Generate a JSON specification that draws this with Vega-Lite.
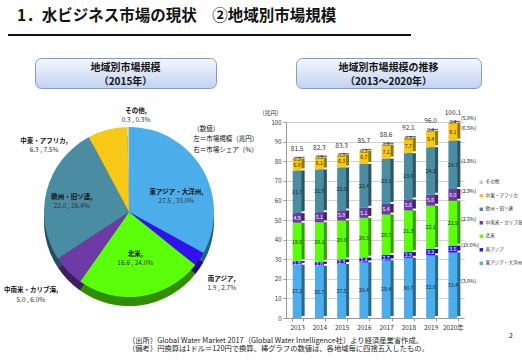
{
  "$schema": "https://vega.github.io/schema/vega-lite/v6.json",
  "background": "white",
  "padding": {"left": 3, "top": 8, "right": 2, "bottom": 2},
  "config": {
    "font": "Noto Sans CJK JP",
    "view": {"stroke": null},
    "title": {"font": "Noto Sans CJK JP", "color": "#111"},
    "axis": {"labelFont": "Noto Sans CJK JP", "titleFont": "Noto Sans CJK JP"},
    "legend": {"labelFont": "Noto Sans CJK JP"},
    "text": {"font": "Noto Sans CJK JP"}
  },
  "datasets": {
    "pie": [
      {"region": "東アジア・大洋州", "size": 27.5, "share": 33.0},
      {"region": "南アジア", "size": 1.9, "share": 2.7},
      {"region": "北米", "size": 16.6, "share": 24.0},
      {"region": "中南米・カリブ海", "size": 5.0, "share": 6.0},
      {"region": "欧州・旧ソ連", "size": 22.0, "share": 26.4},
      {"region": "中東・アフリカ", "size": 6.3, "share": 7.5},
      {"region": "その他", "size": 0.3, "share": 0.3}
    ],
    "totals": [
      {"year": "2013", "total": 81.5}, {"year": "2014", "total": 82.3},
      {"year": "2015", "total": 83.3}, {"year": "2016", "total": 85.7},
      {"year": "2017", "total": 88.6}, {"year": "2018", "total": 92.1},
      {"year": "2019", "total": 96.0}, {"year": "2020", "total": 100.1}
    ],
    "bars": [
      {"year": "2013", "region": "東アジア・大洋州", "value": 27.2},
      {"year": "2013", "region": "南アジア", "value": 1.8},
      {"year": "2013", "region": "北米", "value": 19.6},
      {"year": "2013", "region": "中南米・カリブ海", "value": 4.9},
      {"year": "2013", "region": "欧州・旧ソ連", "value": 21.7},
      {"year": "2013", "region": "中東・アフリカ", "value": 6.0},
      {"year": "2013", "region": "その他", "value": 0.3},
      {"year": "2014", "region": "東アジア・大洋州", "value": 26.7},
      {"year": "2014", "region": "南アジア", "value": 2.0},
      {"year": "2014", "region": "北米", "value": 20.1},
      {"year": "2014", "region": "中南米・カリブ海", "value": 5.1},
      {"year": "2014", "region": "欧州・旧ソ連", "value": 21.9},
      {"year": "2014", "region": "中東・アフリカ", "value": 6.1},
      {"year": "2014", "region": "その他", "value": 0.3},
      {"year": "2015", "region": "東アジア・大洋州", "value": 27.5},
      {"year": "2015", "region": "南アジア", "value": 2.3},
      {"year": "2015", "region": "北米", "value": 20.0},
      {"year": "2015", "region": "中南米・カリブ海", "value": 5.0},
      {"year": "2015", "region": "欧州・旧ソ連", "value": 22.0},
      {"year": "2015", "region": "中東・アフリカ", "value": 6.3},
      {"year": "2015", "region": "その他", "value": 0.3},
      {"year": "2016", "region": "東アジア・大洋州", "value": 28.4},
      {"year": "2016", "region": "南アジア", "value": 2.4},
      {"year": "2016", "region": "北米", "value": 20.3},
      {"year": "2016", "region": "中南米・カリブ海", "value": 5.1},
      {"year": "2016", "region": "欧州・旧ソ連", "value": 22.4},
      {"year": "2016", "region": "中東・アフリカ", "value": 6.7},
      {"year": "2016", "region": "その他", "value": 0.3},
      {"year": "2017", "region": "東アジア・大洋州", "value": 29.4},
      {"year": "2017", "region": "南アジア", "value": 2.7},
      {"year": "2017", "region": "北米", "value": 20.7},
      {"year": "2017", "region": "中南米・カリブ海", "value": 5.4},
      {"year": "2017", "region": "欧州・旧ソ連", "value": 23.1},
      {"year": "2017", "region": "中東・アフリカ", "value": 7.1},
      {"year": "2017", "region": "その他", "value": 0.3},
      {"year": "2018", "region": "東アジア・大洋州", "value": 30.7},
      {"year": "2018", "region": "南アジア", "value": 2.9},
      {"year": "2018", "region": "北米", "value": 21.3},
      {"year": "2018", "region": "中南米・カリブ海", "value": 5.6},
      {"year": "2018", "region": "欧州・旧ソ連", "value": 23.6},
      {"year": "2018", "region": "中東・アフリカ", "value": 7.7},
      {"year": "2018", "region": "その他", "value": 0.3},
      {"year": "2019", "region": "東アジア・大洋州", "value": 32.0},
      {"year": "2019", "region": "南アジア", "value": 3.2},
      {"year": "2019", "region": "北米", "value": 22.1},
      {"year": "2019", "region": "中南米・カリブ海", "value": 5.6},
      {"year": "2019", "region": "欧州・旧ソ連", "value": 24.2},
      {"year": "2019", "region": "中東・アフリカ", "value": 8.4},
      {"year": "2019", "region": "その他", "value": 0.4},
      {"year": "2020", "region": "東アジア・大洋州", "value": 33.4, "cagr": "(3.0%)"},
      {"year": "2020", "region": "南アジア", "value": 3.5, "cagr": "(10.0%)"},
      {"year": "2020", "region": "北米", "value": 22.9, "cagr": "(2.5%)"},
      {"year": "2020", "region": "中南米・カリブ海", "value": 6.0, "cagr": "(2.9%)"},
      {"year": "2020", "region": "欧州・旧ソ連", "value": 24.7, "cagr": "(1.9%)"},
      {"year": "2020", "region": "中東・アフリカ", "value": 9.1, "cagr": "(6.5%)"},
      {"year": "2020", "region": "その他", "value": 0.4, "cagr": "(5.0%)"}
    ]
  },
  "bounds": "flush",
  "spacing": 22,
  "title": {"text": "2", "orient": "bottom", "anchor": "end", "frame": "group", "fontSize": 7, "fontWeight": "normal", "dy": -24, "dx": 505},
  "vconcat": [
    {
      "title": {"text": "1．水ビジネス市場の現状　②地域別市場規模", "anchor": "start", "frame": "group", "fontSize": 15.5, "fontWeight": "bold", "color": "#111", "offset": 5, "dx": 9},
      "width": 403,
      "height": 2,
      "view": {"fill": "#111", "stroke": null},
      "data": {"values": [{}]},
      "mark": {"type": "text"},
      "encoding": {"text": {"value": ""}}
    },
    {
      "bounds": "flush",
      "spacing": 64,
      "vconcat": [
        {
          "bounds": "flush",
          "spacing": 0,
          "hconcat": [
            {"width": 27, "height": 30, "data": {"values": [{}]}, "mark": {"type": "text"}, "encoding": {"text": {"value": ""}}},
            {
              "width": 181, "height": 30,
              "view": {"fill": {"gradient": "linear", "x1": 0, "y1": 0, "x2": 0, "y2": 1, "stops": [{"offset": 0, "color": "#F4F7FD"}, {"offset": 1, "color": "#C2D2F3"}]}, "stroke": "#7F9BCB", "strokeWidth": 1, "cornerRadius": 6},
              "title": {"text": ["地域別市場規模", "（2015年）"], "anchor": "middle", "frame": "group", "offset": -28.5, "fontSize": 10, "fontWeight": "bold", "lineHeight": 13.5, "color": "#111"},
              "data": {"values": [{}]}, "mark": {"type": "text"}, "encoding": {"text": {"value": ""}}
            },
            {"width": 80, "height": 30, "data": {"values": [{}]}, "mark": {"type": "text"}, "encoding": {"text": {"value": ""}}},
            {
              "width": 185, "height": 30,
              "view": {"fill": {"gradient": "linear", "x1": 0, "y1": 0, "x2": 0, "y2": 1, "stops": [{"offset": 0, "color": "#F4F7FD"}, {"offset": 1, "color": "#C2D2F3"}]}, "stroke": "#7F9BCB", "strokeWidth": 1, "cornerRadius": 6},
              "title": {"text": ["地域別市場規模の推移", "（2013～2020年）"], "anchor": "middle", "frame": "group", "offset": -28.5, "fontSize": 10, "fontWeight": "bold", "lineHeight": 13.5, "color": "#111"},
              "data": {"values": [{}]}, "mark": {"type": "text"}, "encoding": {"text": {"value": ""}}
            }
          ]
        },
        {
          "bounds": "flush",
          "spacing": 36,
          "resolve": {"scale": {"color": "independent"}},
          "title": {"text": ["（出所）Global Water Market 2017（Global Water Intelligence社）より経済産業省作成。", "（備考）円換算は1ドル＝120円で換算。棒グラフの数値は、各地域毎に四捨五入したもの。"], "orient": "bottom", "anchor": "start", "frame": "group", "dx": 120, "offset": 6, "fontSize": 7.3, "fontWeight": "normal", "lineHeight": 8.5, "color": "#222"},
          "hconcat": [
            {
              "width": 242,
              "height": 186,
              "layer": [
                {
                  "data": {"name": "pie"},
                  "transform": [
                    {"calculate": "indexof(['東アジア・大洋州','南アジア','北米','中南米・カリブ海','欧州・旧ソ連','中東・アフリカ','その他'], datum.region)", "as": "o"},
                    {"stack": "share", "groupby": [], "sort": [{"field": "o", "order": "ascending"}], "as": ["t0", "t1"]},
                    {"calculate": "(datum.t0 + datum.t1) / 2", "as": "tm"},
                    {"calculate": "datum.region + ','", "as": "nm"},
                    {"calculate": "format(datum.size, '.1f') + ' , ' + format(datum.share, '.1f') + '%'", "as": "lab"}
                  ],
                  "layer": [
                    {
                      "mark": {"type": "arc", "outerRadius": 85, "yOffset": 6},
                      "encoding": {
                        "theta": {"field": "t0", "type": "quantitative", "scale": {"domain": [0, 99.9]}},
                        "theta2": {"field": "t1"},
                        "color": {"field": "region", "type": "nominal", "scale": {"domain": ["その他", "中東・アフリカ", "欧州・旧ソ連", "中南米・カリブ海", "北米", "南アジア", "東アジア・大洋州"], "range": ["#C9C9C9", "#F7C815", "#4A8CA2", "#6E3AA6", "#5CFF0A", "#3311EE", "#4BAEEA"]}, "legend": null}
                      }
                    },
                    {
                      "mark": {"type": "arc", "outerRadius": 85, "yOffset": 6, "color": "black", "opacity": 0.45},
                      "encoding": {
                        "theta": {"field": "t0", "type": "quantitative"},
                        "theta2": {"field": "t1"}
                      }
                    },
                    {
                      "mark": {"type": "arc", "outerRadius": 85, "yOffset": -3},
                      "encoding": {
                        "theta": {"field": "t0", "type": "quantitative"},
                        "theta2": {"field": "t1"},
                        "color": {"field": "region", "type": "nominal", "legend": null}
                      }
                    },
                    {
                      "transform": [{"filter": "datum.region == '東アジア・大洋州'"}],
                      "layer": [
                        {"mark": {"type": "text", "radius": 55, "dy": 5, "fontSize": 6.5, "fontWeight": "bold", "color": "#111"}, "encoding": {"theta": {"field": "tm", "type": "quantitative"}, "text": {"field": "nm", "type": "nominal"}}},
                        {"mark": {"type": "text", "radius": 55, "dy": 14, "fontSize": 6.5, "color": "#333"}, "encoding": {"theta": {"field": "tm", "type": "quantitative"}, "text": {"field": "lab", "type": "nominal"}}}
                      ]
                    },
                    {
                      "transform": [{"filter": "datum.region == '北米'"}],
                      "layer": [
                        {"mark": {"type": "text", "radius": 45, "dy": -6, "fontSize": 6.5, "fontWeight": "bold", "color": "#111"}, "encoding": {"theta": {"field": "tm", "type": "quantitative"}, "text": {"field": "nm", "type": "nominal"}}},
                        {"mark": {"type": "text", "radius": 45, "dy": 3, "fontSize": 6.5, "color": "#333"}, "encoding": {"theta": {"field": "tm", "type": "quantitative"}, "text": {"field": "lab", "type": "nominal"}}}
                      ]
                    },
                    {
                      "transform": [{"filter": "datum.region == '欧州・旧ソ連'"}],
                      "layer": [
                        {"mark": {"type": "text", "radius": 55, "dx": -4, "dy": -4, "fontSize": 6.5, "fontWeight": "bold", "color": "#111"}, "encoding": {"theta": {"field": "tm", "type": "quantitative"}, "text": {"field": "nm", "type": "nominal"}}},
                        {"mark": {"type": "text", "radius": 55, "dx": -4, "dy": 5, "fontSize": 6.5, "color": "#333"}, "encoding": {"theta": {"field": "tm", "type": "quantitative"}, "text": {"field": "lab", "type": "nominal"}}}
                      ]
                    },
                    {
                      "transform": [{"filter": "datum.region == '南アジア'"}],
                      "layer": [
                        {"mark": {"type": "text", "radius": 108, "dx": 3, "dy": 4, "fontSize": 6.5, "fontWeight": "bold", "color": "#111"}, "encoding": {"theta": {"field": "tm", "type": "quantitative"}, "text": {"field": "nm", "type": "nominal"}}},
                        {"mark": {"type": "text", "radius": 108, "dx": 3, "dy": 13, "fontSize": 6.5, "color": "#333"}, "encoding": {"theta": {"field": "tm", "type": "quantitative"}, "text": {"field": "lab", "type": "nominal"}}}
                      ]
                    },
                    {
                      "transform": [{"filter": "datum.region == '中南米・カリブ海'"}],
                      "layer": [
                        {"mark": {"type": "text", "radius": 110, "dx": -19, "dy": -1, "fontSize": 6.5, "fontWeight": "bold", "color": "#111"}, "encoding": {"theta": {"field": "tm", "type": "quantitative"}, "text": {"field": "nm", "type": "nominal"}}},
                        {"mark": {"type": "text", "radius": 110, "dx": -19, "dy": 8.5, "fontSize": 6.5, "color": "#333"}, "encoding": {"theta": {"field": "tm", "type": "quantitative"}, "text": {"field": "lab", "type": "nominal"}}}
                      ]
                    },
                    {
                      "transform": [{"filter": "datum.region == '中東・アフリカ'"}],
                      "layer": [
                        {"mark": {"type": "text", "radius": 95, "dx": -61, "dy": 18, "fontSize": 6.5, "fontWeight": "bold", "color": "#111"}, "encoding": {"theta": {"field": "tm", "type": "quantitative"}, "text": {"field": "nm", "type": "nominal"}}},
                        {"mark": {"type": "text", "radius": 95, "dx": -61, "dy": 27, "fontSize": 6.5, "color": "#333"}, "encoding": {"theta": {"field": "tm", "type": "quantitative"}, "text": {"field": "lab", "type": "nominal"}}}
                      ]
                    },
                    {
                      "transform": [{"filter": "datum.region == 'その他'"}],
                      "layer": [
                        {"mark": {"type": "text", "radius": 100, "dx": 8, "dy": -4, "fontSize": 6.5, "fontWeight": "bold", "color": "#111"}, "encoding": {"theta": {"field": "tm", "type": "quantitative"}, "text": {"field": "nm", "type": "nominal"}}},
                        {"mark": {"type": "text", "radius": 100, "dx": 8, "dy": 5, "fontSize": 6.5, "color": "#333"}, "encoding": {"theta": {"field": "tm", "type": "quantitative"}, "text": {"field": "lab", "type": "nominal"}}}
                      ]
                    }
                  ]
                },
                {
                  "data": {"values": [{}]},
                  "mark": {"type": "text", "theta": 0.6235, "radius": 110, "align": "left", "baseline": "top", "fontSize": 6.5, "lineHeight": 10.5, "color": "#111"},
                  "encoding": {"text": {"value": ["（数値）", "左＝市場規模（兆円）", "右＝市場シェア（%）"]}}
                }
              ]
            },
            {
              "width": 178,
              "height": 196,
              "layer": [
                {
                  "data": {"name": "bars"},
                  "transform": [
                    {"calculate": "indexof(['東アジア・大洋州','南アジア','北米','中南米・カリブ海','欧州・旧ソ連','中東・アフリカ','その他'], datum.region)", "as": "o"},
                    {"stack": "value", "groupby": ["year"], "sort": [{"field": "o", "order": "ascending"}], "as": ["v0", "v1"]},
                    {"calculate": "(datum.v0 + datum.v1) / 2", "as": "mid"}
                  ],
                  "layer": [
                    {
                      "mark": {"type": "bar", "width": {"band": 0.8}, "xOffset": 3, "yOffset": -2},
                      "encoding": {
                        "x": {"field": "year", "type": "ordinal", "scale": {"paddingInner": 0.5, "paddingOuter": 0.25}, "axis": {"title": null, "labelAngle": 0, "labelFontSize": 6.5, "labelColor": "#333", "labelExpr": "datum.value == '2020' ? '2020年' : datum.value", "tickColor": "#999", "domainColor": "#999", "tickBand": "extent", "tickSize": 3, "labelPadding": 3}},
                        "y": {"field": "v0", "type": "quantitative", "title": "(兆円)", "scale": {"domain": [0, 100], "nice": false}, "axis": {"values": [0, 10, 20, 30, 40, 50, 60, 70, 80, 90, 100], "titleAngle": 0, "titleX": -24, "titleY": -10, "titleAlign": "left", "titleBaseline": "middle", "titleFontSize": 6, "titleFontWeight": "normal", "titleColor": "#333", "labelFontSize": 6, "labelColor": "#333", "grid": true, "gridColor": "#c8c8c8", "gridWidth": 0.8, "domainColor": "#999", "tickColor": "#999", "tickSize": 3}},
                        "y2": {"field": "v1"},
                        "color": {"field": "region", "type": "nominal", "scale": {"domain": ["その他", "中東・アフリカ", "欧州・旧ソ連", "中南米・カリブ海", "北米", "南アジア", "東アジア・大洋州"], "range": ["#C9C9C9", "#F7C815", "#4A8CA2", "#6E3AA6", "#5CFF0A", "#3311EE", "#4BAEEA"]}, "legend": {"orient": "none", "legendX": 193, "legendY": 58, "title": null, "symbolType": "square", "symbolSize": 12, "symbolStrokeWidth": 0, "labelFontSize": 4.6, "labelColor": "#222", "rowPadding": 7.5, "labelOffset": 2, "padding": 0, "labelLimit": 60}}
                      }
                    },
                    {
                      "mark": {"type": "bar", "width": {"band": 0.8}, "xOffset": 3, "yOffset": -2, "color": "black", "opacity": 0.4},
                      "encoding": {
                        "x": {"field": "year", "type": "ordinal"},
                        "y": {"field": "v0", "type": "quantitative", "title": "(兆円)", "axis": {"values": [0, 10, 20, 30, 40, 50, 60, 70, 80, 90, 100], "titleAngle": 0, "titleX": -24, "titleY": -10, "titleAlign": "left", "titleBaseline": "middle", "titleFontSize": 6, "titleFontWeight": "normal", "titleColor": "#333", "labelFontSize": 6, "labelColor": "#333", "grid": true, "gridColor": "#c8c8c8", "gridWidth": 0.8, "domainColor": "#999", "tickColor": "#999", "tickSize": 3}},
                        "y2": {"field": "v1"}
                      }
                    },
                    {
                      "mark": {"type": "bar", "width": {"band": 0.8}},
                      "encoding": {
                        "x": {"field": "year", "type": "ordinal"},
                        "y": {"field": "v0", "type": "quantitative", "title": "(兆円)", "axis": {"values": [0, 10, 20, 30, 40, 50, 60, 70, 80, 90, 100], "titleAngle": 0, "titleX": -24, "titleY": -10, "titleAlign": "left", "titleBaseline": "middle", "titleFontSize": 6, "titleFontWeight": "normal", "titleColor": "#333", "labelFontSize": 6, "labelColor": "#333", "grid": true, "gridColor": "#c8c8c8", "gridWidth": 0.8, "domainColor": "#999", "tickColor": "#999", "tickSize": 3}},
                        "y2": {"field": "v1"},
                        "color": {"field": "region", "type": "nominal", "legend": {"orient": "none", "legendX": 193, "legendY": 58, "title": null, "symbolType": "square", "symbolSize": 12, "symbolStrokeWidth": 0, "labelFontSize": 4.6, "labelColor": "#222", "rowPadding": 7.5, "labelOffset": 2, "padding": 0, "labelLimit": 60}}
                      }
                    },
                    {
                      "mark": {"type": "text", "fontSize": 5.2},
                      "encoding": {
                        "x": {"field": "year", "type": "ordinal"},
                        "y": {"field": "mid", "type": "quantitative", "title": "(兆円)", "axis": {"values": [0, 10, 20, 30, 40, 50, 60, 70, 80, 90, 100], "titleAngle": 0, "titleX": -24, "titleY": -10, "titleAlign": "left", "titleBaseline": "middle", "titleFontSize": 6, "titleFontWeight": "normal", "titleColor": "#333", "labelFontSize": 6, "labelColor": "#333", "grid": true, "gridColor": "#c8c8c8", "gridWidth": 0.8, "domainColor": "#999", "tickColor": "#999", "tickSize": 3}},
                        "text": {"field": "value", "type": "quantitative", "format": ".1f"},
                        "color": {"condition": {"test": "datum.region == '南アジア' || datum.region == '中南米・カリブ海'", "value": "white"}, "value": "#222"}
                      }
                    },
                    {
                      "transform": [{"filter": "isValid(datum.cagr)"}],
                      "mark": {"type": "text", "align": "left", "dx": 8, "dy": -4, "fontSize": 5.2, "color": "#222"},
                      "encoding": {
                        "x": {"field": "year", "type": "ordinal"},
                        "y": {"field": "mid", "type": "quantitative", "title": "(兆円)", "axis": {"values": [0, 10, 20, 30, 40, 50, 60, 70, 80, 90, 100], "titleAngle": 0, "titleX": -24, "titleY": -10, "titleAlign": "left", "titleBaseline": "middle", "titleFontSize": 6, "titleFontWeight": "normal", "titleColor": "#333", "labelFontSize": 6, "labelColor": "#333", "grid": true, "gridColor": "#c8c8c8", "gridWidth": 0.8, "domainColor": "#999", "tickColor": "#999", "tickSize": 3}},
                        "text": {"field": "cagr", "type": "nominal"}
                      }
                    }
                  ]
                },
                {
                  "data": {"name": "totals"},
                  "mark": {"type": "text", "dy": -9, "fontSize": 6.5, "color": "#333"},
                  "encoding": {
                    "x": {"field": "year", "type": "ordinal"},
                    "y": {"field": "total", "type": "quantitative", "title": "(兆円)", "axis": {"values": [0, 10, 20, 30, 40, 50, 60, 70, 80, 90, 100], "titleAngle": 0, "titleX": -24, "titleY": -10, "titleAlign": "left", "titleBaseline": "middle", "titleFontSize": 6, "titleFontWeight": "normal", "titleColor": "#333", "labelFontSize": 6, "labelColor": "#333", "grid": true, "gridColor": "#c8c8c8", "gridWidth": 0.8, "domainColor": "#999", "tickColor": "#999", "tickSize": 3}},
                    "text": {"field": "total", "type": "quantitative", "format": ".1f"}
                  }
                }
              ]
            }
          ]
        }
      ]
    }
  ]
}
